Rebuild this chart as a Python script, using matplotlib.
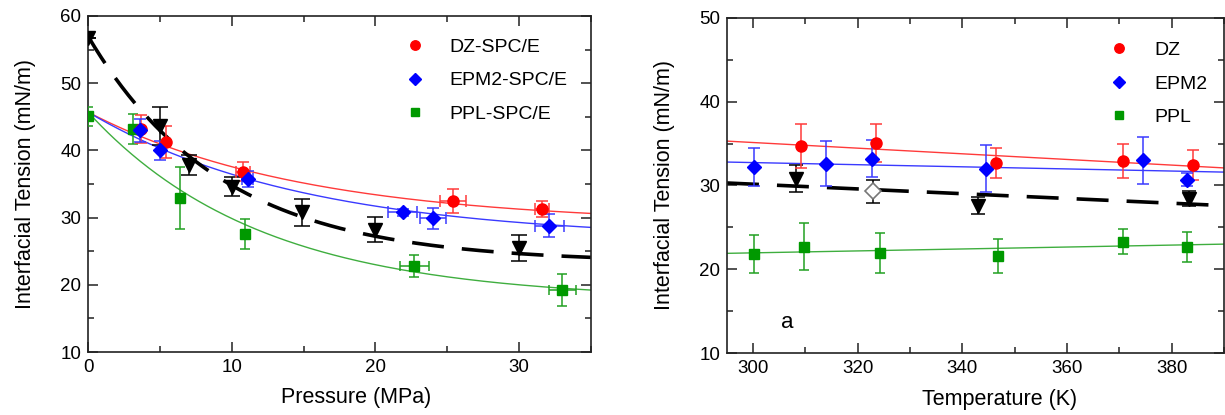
import numpy as np
import matplotlib
matplotlib.use("Agg")
import matplotlib.pyplot as plt
from matplotlib.ticker import MultipleLocator

plt.rcParams['font.family'] = ['Liberation Sans', 'DejaVu Sans']
plt.rcParams['lines.scale_dashes'] = False

RED, BLUE, GREEN = '#ff0000', '#0000ff', '#009900'
RED_L, BLUE_L, GREEN_L = '#ff3a3a', '#3a3aff', '#3fae3f'

# ---------------- pressure series (MPa, mN/m) ----------------
dz_p = [3.7, 5.4, 10.8, 25.4, 31.6]
dz_g = [43.2, 41.3, 36.8, 32.5, 31.3]
dz_ey = [2.1, 2.4, 1.4, 1.8, 1.2]
dz_ex = [0.0, 0.0, 0.5, 0.9, 0.5]

epm_p = [3.6, 5.0, 11.1, 21.9, 24.0, 32.1]
epm_g = [43.0, 40.0, 35.7, 30.8, 29.9, 28.8]
epm_ey = [1.7, 1.4, 1.2, 0.5, 1.6, 1.7]
epm_ex = [0.0, 0.0, 0.4, 1.0, 0.9, 1.0]

ppl_p = [0.0, 3.1, 6.4, 10.9, 22.7, 33.0]
ppl_g = [45.1, 43.2, 32.9, 27.6, 22.8, 19.2]
ppl_ey = [1.4, 2.2, 4.6, 2.2, 1.7, 2.4]
ppl_ex = [0.0, 0.0, 0.0, 0.0, 1.0, 0.95]

ref_p = [0.0, 5.0, 7.0, 10.0, 14.9, 20.0, 30.0]
ref_g = [56.8, 43.6, 37.8, 34.6, 30.8, 28.2, 25.5]
ref_ey = [0.0, 2.8, 1.5, 1.4, 2.0, 1.9, 1.9]

# exponential fits  g = a + b*exp(-P/c)
fit_dz = (29.0, 16.7, 15.0)
fit_epm = (26.7, 19.0, 15.0)
fit_ppl = (17.7, 28.0, 12.0)
fit_ref = (23.3, 33.7, 9.3)

# ---------------- temperature series (K, mN/m) ----------------
dz_t = [309.1, 323.4, 346.4, 370.7, 384.0]
dz_tg = [34.7, 35.1, 32.7, 32.9, 32.4]
dz_tey = [2.6, 2.3, 1.8, 2.0, 1.8]

epm_t = [300.2, 314.0, 322.7, 344.5, 374.5, 383.0]
epm_tg = [32.2, 32.6, 33.2, 32.0, 33.0, 30.7]
epm_tey = [2.3, 2.7, 2.2, 2.8, 2.8, 0.8]

ppl_t = [300.2, 309.8, 324.2, 346.8, 370.6, 383.0]
ppl_tg = [21.8, 22.7, 21.9, 21.6, 23.3, 22.7]
ppl_tey = [2.3, 2.8, 2.4, 2.0, 1.5, 1.8]

ref_t = [308.1, 343.0, 383.4]
ref_tg = [30.8, 27.6, 28.4]
ref_tey = [1.6, 1.0, 0.9]

open_t = [323.0]
open_tg = [29.3]
open_tey = [1.4]

# linear trend lines (value at 295 K, value at 390 K)
lin_dz = (35.3, 32.1)
lin_epm = (32.8, 31.6)
lin_ppl = (21.9, 23.0)
lin_ref = (30.3, 27.6)

fig = plt.figure(figsize=(12.25, 4.15), dpi=100)
ax1 = fig.add_axes([88 / 1225, 63 / 415, 503 / 1225, 336 / 415])
ax2 = fig.add_axes([727 / 1225, 62 / 415, 497 / 1225, 335 / 415])


def style(ax):
    for s in ax.spines.values():
        s.set_linewidth(1.2)
        s.set_color('#222222')
    ax.tick_params(which='both', direction='in', top=True, right=True,
                   labelsize=13.5, pad=5, color='#222222', width=1.1)
    ax.tick_params(which='major', length=7)
    ax.tick_params(which='minor', length=4)


def errs(ax, x, y, ey, ex, color, ms, marker, cap, label=None, mfc=None, mec=None, ecolor=None):
    ex_arr = None if ex is None else np.array(ex)
    ax.errorbar(x, y, yerr=ey, xerr=ex_arr, fmt='none', ecolor=ecolor or color,
                elinewidth=1.1, capsize=cap, capthick=1.1, zorder=3)
    ax.plot(x, y, linestyle='none', marker=marker, ms=ms, color=color,
            mfc=mfc or color, mec=mec or color, label=label, zorder=4)


# ---- left: pressure ----
P = np.linspace(0, 35, 300)
for (a, b, c), col in [(fit_dz, RED_L), (fit_epm, BLUE_L), (fit_ppl, GREEN_L)]:
    ax1.plot(P, a + b * np.exp(-P / c), color=col, lw=1.0, zorder=2)
a, b, c = fit_ref
ax1.plot(P, a + b * np.exp(-P / c), color='black', lw=2.6, dashes=(23, 13), zorder=2)

ax1.errorbar(ref_p, ref_g, yerr=ref_ey, fmt='none', ecolor='black', elinewidth=1.1,
             capsize=6, capthick=1.1, zorder=3)
ax1.plot(ref_p, ref_g, 'v', color='black', ms=10, zorder=4)
errs(ax1, ppl_p, ppl_g, ppl_ey, ppl_ex, GREEN, 6.5, 's', 3.3, 'PPL-SPC/E', ecolor='#22a022')
errs(ax1, dz_p, dz_g, dz_ey, dz_ex, RED, 8, 'o', 4.3, 'DZ-SPC/E', ecolor=RED_L)
errs(ax1, epm_p, epm_g, epm_ey, epm_ex, BLUE, 7, 'D', 4.5, 'EPM2-SPC/E', ecolor=BLUE_L)

ax1.set_xlim(0, 35)
ax1.set_ylim(10, 60)
ax1.xaxis.set_major_locator(MultipleLocator(10))
ax1.xaxis.set_minor_locator(MultipleLocator(5))
ax1.yaxis.set_major_locator(MultipleLocator(10))
ax1.yaxis.set_minor_locator(MultipleLocator(5))
style(ax1)
ax1.set_xlabel('Pressure (MPa)', fontsize=15.5)
ax1.set_ylabel('Interfacial Tension (mN/m)', fontsize=15.5)
ax1.xaxis.set_label_coords(0.533, -0.105)
ax1.yaxis.set_label_coords(-0.103, 0.5)

h, l = ax1.get_legend_handles_labels()
order = [l.index('DZ-SPC/E'), l.index('EPM2-SPC/E'), l.index('PPL-SPC/E')]
ax1.legend([h[i] for i in order], [l[i] for i in order], loc='upper left',
           bbox_to_anchor=(0.63, 0.934), frameon=False, fontsize=14,
           handlelength=1.0, handletextpad=1.3, labelspacing=0.82,
           borderpad=0, borderaxespad=0, markerscale=0.85)

# ---- right: temperature ----
T = np.array([295.0, 390.0])
for (y0, y1), col in [(lin_dz, RED_L), (lin_epm, BLUE_L), (lin_ppl, GREEN_L)]:
    ax2.plot(T, [y0, y1], color=col, lw=1.0, zorder=2)
ax2.plot(T, list(lin_ref), color='black', lw=2.6, dashes=(23, 13), zorder=2)

ax2.errorbar(ref_t, ref_tg, yerr=ref_tey, fmt='none', ecolor='black', elinewidth=1.1,
             capsize=5, capthick=1.1, zorder=3)
ax2.plot(ref_t, ref_tg, 'v', color='black', ms=10, zorder=4)
ax2.errorbar(open_t, open_tg, yerr=open_tey, fmt='none', ecolor='black', elinewidth=1.1,
             capsize=5, capthick=1.1, zorder=3)
ax2.plot(open_t, open_tg, 'D', ms=8, mfc='white', mec='#777777', mew=1.2, zorder=4)
errs(ax2, ppl_t, ppl_tg, ppl_tey, None, GREEN, 6.5, 's', 3.3, 'PPL', ecolor='#22a022')
errs(ax2, dz_t, dz_tg, dz_tey, None, RED, 8, 'o', 4.3, 'DZ', ecolor=RED_L)
errs(ax2, epm_t, epm_tg, epm_tey, None, BLUE, 7, 'D', 4.5, 'EPM2', ecolor=BLUE_L)

ax2.set_xlim(295, 390)
ax2.set_ylim(10, 50)
ax2.xaxis.set_major_locator(MultipleLocator(20))
ax2.xaxis.set_minor_locator(MultipleLocator(10))
ax2.yaxis.set_major_locator(MultipleLocator(10))
ax2.yaxis.set_minor_locator(MultipleLocator(5))
style(ax2)
ax2.set_xlabel('Temperature (K)', fontsize=15.5)
ax2.set_ylabel('Interfacial Tension (mN/m)', fontsize=15.5)
ax2.xaxis.set_label_coords(0.549, -0.108)
ax2.yaxis.set_label_coords(-0.104, 0.5)
ax2.text(306.6, 13.7, 'a', fontsize=16, ha='center', va='center')

h, l = ax2.get_legend_handles_labels()
order = [l.index('DZ'), l.index('EPM2'), l.index('PPL')]
ax2.legend([h[i] for i in order], [l[i] for i in order], loc='upper left',
           bbox_to_anchor=(0.77, 0.93), frameon=False, fontsize=14,
           handlelength=1.0, handletextpad=1.3, labelspacing=0.82,
           borderpad=0, borderaxespad=0, markerscale=0.85)

fig.savefig('out.png', dpi=100)
